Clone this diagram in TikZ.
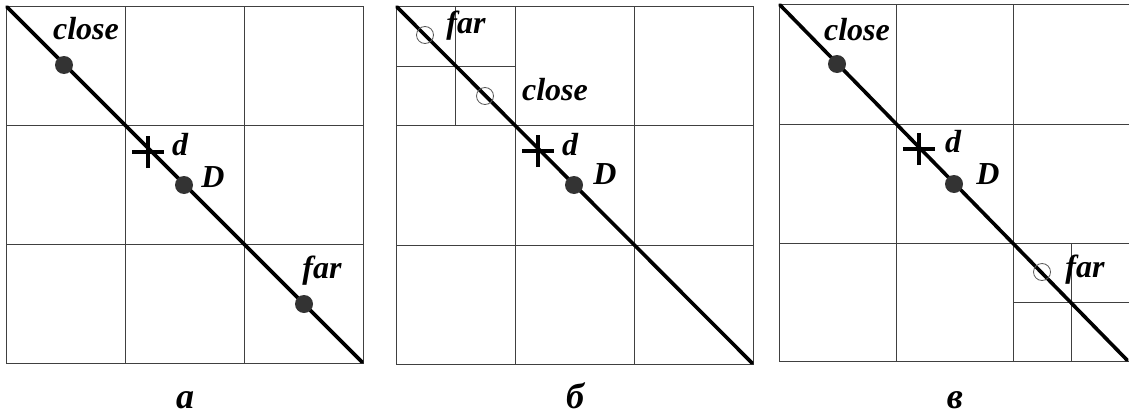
\documentclass[tikz,border=0pt]{standalone}
\usepackage{fontspec}
\setmainfont{Liberation Serif}
\begin{document}
\begin{tikzpicture}[x=1pt,y=-1pt,
  gridline/.style={draw=black!75,line width=1pt},
  diag/.style={line width=3.6pt,line cap=round},
  fulldot/.style={circle,fill=black!80,minimum size=18pt,inner sep=0pt},
  opendot/.style={circle,draw=black!65,line width=0.8pt,minimum size=17pt,inner sep=0pt},
  lbl/.style={anchor=base,inner sep=0pt,font=\fontsize{32}{32}\selectfont\bfseries\itshape},
  captionlbl/.style={anchor=base,inner sep=0pt,font=\fontsize{36}{36}\selectfont\bfseries\itshape},
  crossarm/.style={line width=3.8pt}]
\useasboundingbox (0,0) rectangle (1129,415);
% ---------- panel a ----------
\draw[gridline] (6,6) rectangle (363,363);
\draw[gridline] (125,6) -- (125,363) (244,6) -- (244,363)
                (6,125) -- (363,125) (6,244) -- (363,244);
\coordinate (a1) at (7,7);
\coordinate (a2) at (362,362);
\draw[diag] (a1) -- (a2);
\node[fulldot] (aclose) at (64,65) {};
\node[fulldot] (aD) at (184,185) {};
\node[fulldot] (afar) at (304,304) {};
\coordinate (ad) at (148,152);
\draw[crossarm] ([xshift=-16pt]ad) -- ([xshift=16pt]ad) ([yshift=-16pt]ad) -- ([yshift=16pt]ad);
\node[lbl] (aclosel) at (86,39) {close};
\node[lbl] (adl) at (180,155) {d};
\node[lbl] (aDl) at (213,187) {D};
\node[lbl] (afarl) at (322,278) {far};
\node[captionlbl] (acap) at (185,408) {а};
% ---------- panel b ----------
\draw[gridline] (396,6) rectangle (753,364);
\draw[gridline] (515,6) -- (515,364) (634,6) -- (634,364)
                (396,125) -- (753,125) (396,245) -- (753,245)
                (455.5,6) -- (455.5,125) (396,66) -- (515,66);
\coordinate (b1) at (397,7);
\coordinate (b2) at (752,363);
\draw[diag] (b1) -- (b2);
\node[opendot] (bfar) at (425,35) {};
\node[opendot] (bclose) at (485,96) {};
\node[fulldot] (bD) at (574,185) {};
\coordinate (bd) at (538,151);
\draw[crossarm] ([xshift=-16pt]bd) -- ([xshift=16pt]bd) ([yshift=-16pt]bd) -- ([yshift=16pt]bd);
\node[lbl] (bfarl) at (466,33) {far};
\node[lbl] (bclosel) at (555,100) {close};
\node[lbl] (bdl) at (570,155) {d};
\node[lbl] (bDl) at (605,184) {D};
\node[captionlbl] (bcap) at (575,408) {б};
% ---------- panel c ----------
\draw[gridline] (779,4) rectangle (1130,361);
\draw[gridline] (896,4) -- (896,361) (1013,4) -- (1013,361)
                (779,124) -- (1130,124) (779,243) -- (1130,243)
                (1071,243) -- (1071,361) (1013,302) -- (1130,302);
\coordinate (c1) at (780,5);
\coordinate (c2) at (1127,360);
\draw[diag] (c1) -- (c2);
\node[fulldot] (cclose) at (837,64) {};
\node[fulldot] (cD) at (954,184) {};
\node[opendot] (cfar) at (1042,272) {};
\coordinate (cd) at (919,149);
\draw[crossarm] ([xshift=-16pt]cd) -- ([xshift=16pt]cd) ([yshift=-16pt]cd) -- ([yshift=16pt]cd);
\node[lbl] (cclosel) at (857,40) {close};
\node[lbl] (cdl) at (953,152) {d};
\node[lbl] (cDl) at (988,184) {D};
\node[lbl] (cfarl) at (1085,277) {far};
\node[captionlbl] (ccap) at (955,408) {в};
\end{tikzpicture}
\end{document}
